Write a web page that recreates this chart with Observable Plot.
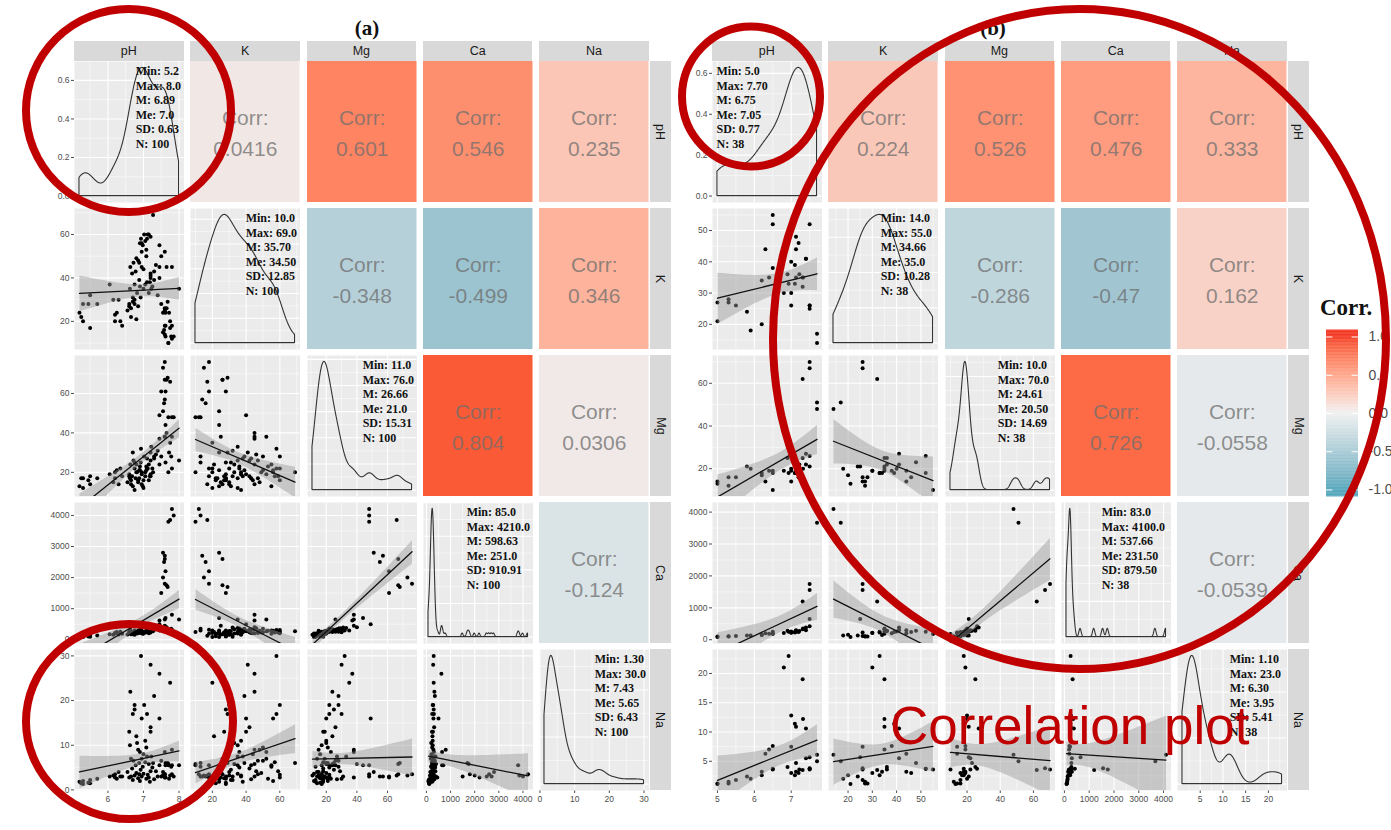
<!DOCTYPE html>
<html>
<head>
<meta charset="utf-8">
<script src="https://cdn.jsdelivr.net/npm/d3@7"></script>
<script src="https://cdn.jsdelivr.net/npm/@observablehq/plot@0.6"></script>
<style>
  html, body { margin: 0; padding: 0; background: #fff; }
  #page { position: relative; width: 1391px; height: 830px; overflow: hidden; background: #fff;
          font-family: "Liberation Sans", Arial, sans-serif; }
  .strip { position: absolute; background: #D9D9D9; color: #1A1A1A; font-size: 12.5px;
           display: flex; align-items: center; justify-content: center; }
  .strip.right span { display: inline-block; transform: rotate(90deg); white-space: nowrap; }
</style>
</head>
<body>
<div id="page"></div>
<script>
const VARS = ["pH", "K", "Mg", "Ca", "Na"];

// ---------- (a) soil samples, N = 100 ----------
const pHA = [
  7.80, 7.85, 7.75, 7.70, 7.55, 7.60, 7.60, 7.58, 7.62, 7.55, 7.60, 7.65, 7.68, 7.50, 7.62, 7.80, 7.60, 7.45,
  5.20, 5.25, 5.30, 5.30, 5.45, 5.50, 5.50, 5.70,
  6.05, 6.15, 6.20, 6.20, 6.25, 6.30, 6.35, 6.40,
  6.93, 7.20, 7.45, 7.30, 6.63, 6.75, 6.75, 7.02, 6.70, 6.95,
  7.10, 7.20, 7.20, 6.60, 6.80, 6.82, 6.62, 7.08, 6.85, 6.90,
  7.00, 7.10, 6.95, 6.65, 6.72, 7.05, 6.88, 7.15, 6.78, 6.98,
  7.25, 6.68, 6.92, 7.35, 6.55, 6.80, 7.00, 7.12, 6.75, 6.95,
  7.40, 6.60, 6.85, 7.08, 7.30, 6.70, 6.90, 7.18, 6.88, 7.27,
  7.45, 7.50, 7.15, 7.20, 7.05, 6.65, 7.22,
  7.75, 7.62, 7.70, 7.80, 7.65, 8.00, 7.72, 7.78, 7.60
];
const kA = [
  12, 13, 17, 10, 24, 14, 26, 16, 18, 15, 18, 26, 29, 28, 24, 45, 52, 40,
  24, 22, 20, 28, 28, 17, 32, 28,
  37, 30, 20, 23, 24, 30, 20, 18,
  58, 41, 45, 39, 45, 30, 28, 60, 29, 56,
  58, 42, 40, 27, 21, 33, 35, 50, 48, 36,
  44, 38, 52, 26, 47, 57, 39, 33, 43, 55,
  36, 42, 31, 46, 25, 49, 35, 60, 37, 45,
  32, 28, 27, 53, 43, 31, 56, 38, 47, 69,
  55, 50, 60, 59, 37, 22, 35,
  20, 13, 10, 18, 45, 35, 24, 13, 25
];
const mgA = [
  48, 48, 66, 48, 51, 57, 67, 55, 61, 73, 76, 67, 68, 61, 44, 38, 38, 49,
  13, 17, 12, 17, 16, 14, 18, 17,
  19, 15, 20, 17, 21, 14, 22, 18,
  32, 30, 37, 28, 24, 22, 25, 28, 30, 20,
  22, 26, 19, 18, 24, 20, 17, 21, 15, 23,
  16, 27, 19, 14, 26, 18, 21, 24, 17, 13,
  22, 18, 25, 29, 15, 20, 12, 22, 11, 14,
  31, 19, 16, 23, 27, 13, 21, 18, 17, 20,
  24, 28, 16, 18, 20, 16, 33,
  35, 25, 20, 22, 40, 26, 30, 28, 38
];
const caA = [
  4210, 4000, 3850, 3800, 2800, 2700, 2600, 2500, 2200, 2000, 1800, 1750, 1700, 1500, 700, 800, 650, 500,
  90, 110, 85, 120, 100, 130, 95, 140,
  180, 160, 220, 200, 250, 170, 260, 190,
  300, 280, 620, 350, 330, 280, 300, 260, 240, 290,
  310, 320, 270, 230, 250, 200, 260, 240, 290, 310,
  210, 330, 270, 180, 260, 230, 300, 340, 220, 190,
  360, 240, 280, 370, 170, 230, 200, 310, 160, 210,
  390, 250, 230, 290, 330, 180, 260, 240, 220, 270,
  300, 350, 210, 230, 260, 190, 380,
  300, 300, 250, 320, 400, 650, 300, 350, 450
];
const naA = [
  3.5, 3.0, 3.2, 5.5, 4.0, 3.0, 3.5, 3.0, 2.8, 3.2, 3.5, 5.8, 6.0, 3.0, 5.5, 9.0, 8.5, 16,
  1.8, 1.5, 2.0, 1.3, 1.6, 1.5, 2.2, 2.5,
  3.0, 3.2, 2.8, 3.5, 2.5, 4.0, 3.0, 3.0,
  30, 28, 26, 21, 22, 19, 18, 19, 17, 16,
  17, 14, 13, 13, 12, 10.5, 10, 9.5, 9, 8.5,
  8, 7.5, 7, 7, 6.5, 6.2, 6, 5.8, 5.5, 5.2,
  5, 4.8, 4.5, 4.2, 4, 3.8, 3.6, 3.4, 3.2, 3,
  3, 2.8, 2.6, 2.5, 2.4, 2.2, 2.0, 1.8, 3.5, 6,
  5.5, 6.5, 2.8, 4.2, 11, 3.0, 7.5,
  24, 6, 5.8, 5.5, 5.8, 5.5, 2.5, 5.2, 2.8
];
// upper triangle, row by row: pH-K, pH-Mg, pH-Ca, pH-Na, K-Mg, K-Ca, K-Na, Mg-Ca, Mg-Na, Ca-Na
const corrA = [0.0416, 0.601, 0.546, 0.235, -0.348, -0.499, 0.346, 0.804, 0.0306, -0.124];
const minA = ["5.2", "10.0", "11.0", "85.0", "1.30"];
const maxA = ["8.0", "69.0", "76.0", "4210.0", "30.0"];
const meanA = ["6.89", "35.70", "26.66", "598.63", "7.43"];
const medianA = ["7.0", "34.50", "21.0", "251.0", "5.65"];
const sdA = ["0.63", "12.85", "15.31", "910.91", "6.43"];
const nA = 100;
const ticksA = [[6, 7, 8], [20, 40, 60], [20, 40, 60], [0, 1000, 2000, 3000, 4000], [0, 10, 20, 30]];
const densityTicksA = [0, 0.2, 0.4, 0.6];

// ---------- (b) soil samples, N = 38 ----------
const pHB = [5.0, 5.0, 5.3, 5.3, 5.5, 5.8, 5.9, 6.2, 6.3, 6.5, 6.5, 6.5, 6.4, 6.8, 6.93, 7.0, 7.0, 7.1, 7.13,
  7.13, 7.13, 7.22, 7.31, 7.31, 7.32, 7.4, 7.4, 7.5, 7.5, 7.5, 7.5, 7.7, 7.7, 6.2, 7.0, 6.9, 7.2, 7.1];
const kB = [27, 21, 28, 27, 26, 24, 18, 34, 44, 55, 52, 38, 35, 30, 33, 26, 40, 39, 48,
  44, 35, 36, 32, 35, 35, 41, 41, 52, 26, 26, 25, 17, 14, 20, 30, 36, 46, 33];
const mgB = [14, 13, 16, 12, 16, 21, 20, 18, 14, 10, 18, 19, 19, 19, 18, 14, 20, 18, 23,
  19, 21, 22, 62, 25, 20, 22, 27, 26, 70, 67, 21, 51, 48, 17, 19, 25, 16, 18];
const caB = [100, 83, 100, 110, 120, 130, 130, 150, 200, 180, 250, 200, 190, 210, 250, 230, 260, 240, 280,
  300, 250, 270, 1200, 330, 350, 300, 380, 420, 1750, 1560, 650, 3670, 4100, 160, 220, 280, 240, 230];
const naB = [1.2, 1.1, 1.2, 1.5, 1.8, 2.4, 2.0, 3.2, 6.3, 3.6, 3.7, 7.6, 7.0, 21, 23, 7.5, 12.8, 11.4, 4.7,
  3.2, 10.9, 3.6, 3.5, 19, 12.2, 5.5, 10.6, 3.7, 3.6, 3.8, 5.7, 5.0, 6.1, 2.6, 3.0, 4.0, 3.0, 2.6];
const corrB = [0.224, 0.526, 0.476, 0.333, -0.286, -0.47, 0.162, 0.726, -0.0558, -0.0539];
const minB = ["5.0", "14.0", "10.0", "83.0", "1.10"];
const maxB = ["7.70", "55.0", "70.0", "4100.0", "23.0"];
const meanB = ["6.75", "34.66", "24.61", "537.66", "6.30"];
const medianB = ["7.05", "35.0", "20.50", "231.50", "3.95"];
const sdB = ["0.77", "10.28", "14.69", "879.50", "5.41"];
const nB = 38;
const ticksB = [[5, 6, 7], [20, 30, 40, 50], [20, 40, 60], [0, 1000, 2000, 3000, 4000], [5, 10, 15, 20]];
const densityTicksB = [0, 0.2, 0.4, 0.6];

const legendTicks = [1, 0.5, 0, -0.5, -1];

// ---------- layout ----------
const CELL_W = 109.5, CELL_H = 141, STEP_X = 116.3, STEP_Y = 147, TOP = 61;
const page = document.getElementById("page");

const corrColor = {type: "linear", domain: [-1, 0, 1], range: ["#3B9AB2", "#EEEEEE", "#F21A00"],
                   interpolate: "lab", clamp: true};

const baseStyle = {background: "transparent", overflow: "visible",
  fontFamily: "'Liberation Sans', Arial, sans-serif", fontSize: "8.5px", color: "#4D4D4D"};

const measure = document.createElement("canvas").getContext("2d");
measure.font = "bold 12px 'Liberation Serif'";

function place(node, left, top) {
  node.style.position = "absolute";
  node.style.left = left + "px";
  node.style.top = top + "px";
  page.appendChild(node);
  return node;
}

function toRows(cols) {
  return cols[0].map((_, i) => Object.fromEntries(VARS.map((v, j) => [v, cols[j][i]])));
}

function padded(rows, v) {
  const [a, b] = d3.extent(rows, d => d[v]);
  const p = (b - a) * 0.05;
  return [a - p, b + p];
}

function minorBreaks(major, dom) {
  if (major.length < 2) return [];
  const s = major[1] - major[0];
  const out = [];
  for (let t = major[0] - s / 2; t <= major[major.length - 1] + s / 2 + 1e-9; t += s)
    if (t >= dom[0] && t <= dom[1]) out.push(t);
  return out;
}

// Gaussian kernel density with R's bw.nrd0 bandwidth, evaluated over the data range
function kde(values) {
  const v = values.slice().sort(d3.ascending);
  const n = v.length;
  const sd = d3.deviation(v);
  const iqr = d3.quantileSorted(v, 0.75) - d3.quantileSorted(v, 0.25);
  let lo = Math.min(sd, iqr / 1.34);
  if (!(lo > 0)) lo = sd || 1;
  const bw = 0.9 * lo * Math.pow(n, -0.2);
  const [a, b] = d3.extent(v);
  const norm = 1 / (n * bw * Math.sqrt(2 * Math.PI));
  return d3.range(512).map(i => {
    const x = a + (b - a) * i / 511;
    let s = 0;
    for (const t of v) { const z = (x - t) / bw; s += Math.exp(-0.5 * z * z); }
    return {x, y: s * norm};
  });
}

function panelBackground(xDom, yDom, xMaj, yMaj) {
  return [
    Plot.frame({fill: "#EBEBEB", stroke: "none"}),
    Plot.ruleX(minorBreaks(xMaj, xDom), {stroke: "#fff", strokeWidth: 0.5}),
    Plot.ruleY(minorBreaks(yMaj, yDom), {stroke: "#fff", strokeWidth: 0.5}),
    Plot.ruleX(xMaj, {stroke: "#fff", strokeWidth: 1.1}),
    Plot.ruleY(yMaj, {stroke: "#fff", strokeWidth: 1.1})
  ];
}

const intFmt = d => String(d);
const decFmt = d3.format(".1f");

function scaleOpts(dom, ticks, fmt, axis) {
  return {domain: dom, ticks, tickFormat: fmt, axis, tickSize: 3, tickPadding: 2, label: null};
}

const panels = [
  {x0: 74, rows: toRows([pHA, kA, mgA, caA, naA]), corr: corrA, n: nA,
   stats: [minA, maxA, meanA, medianA, sdA], ticks: ticksA, densityTicks: densityTicksA,
   statPad: 3, statLeft: [false, false, false, false, false]},
  {x0: 712, rows: toRows([pHB, kB, mgB, caB, naB]), corr: corrB, n: nB,
   stats: [minB, maxB, meanB, medianB, sdB], ticks: ticksB, densityTicks: densityTicksB,
   statPad: 6, statLeft: [true, false, false, false, false]}
];

for (const p of panels) {
  const doms = VARS.map(v => padded(p.rows, v));
  const majors = VARS.map((v, i) => p.ticks[i].filter(t => t >= doms[i][0] && t <= doms[i][1]));
  let k = 0;

  // column strips on top, row strips on the right
  VARS.forEach((v, i) => {
    const top = document.createElement("div");
    top.className = "strip";
    top.textContent = v;
    top.style.width = CELL_W + "px";
    top.style.height = "19.5px";
    place(top, p.x0 + i * STEP_X, TOP - 20);

    const right = document.createElement("div");
    right.className = "strip right";
    right.innerHTML = `<span>${v}</span>`;
    right.style.width = "21px";
    right.style.height = CELL_H + "px";
    place(right, p.x0 + 4 * STEP_X + CELL_W + 1, TOP + i * STEP_Y);
  });

  for (let r = 0; r < 5; r++) {
    for (let c = 0; c < 5; c++) {
      const vr = VARS[r], vc = VARS[c];
      const ml = c === 0 ? 40 : 0, mb = r === 4 ? 24 : 0;
      const base = {width: CELL_W + ml, height: CELL_H + mb, marginLeft: ml, marginBottom: mb,
                    marginTop: 0, marginRight: 0, style: baseStyle};
      let svg;
      if (r < c) {
        // correlation tile
        const value = p.corr[k++];
        svg = Plot.plot({
          ...base,
          color: corrColor,
          marks: [
            Plot.rect([value], {fill: d => d}),
            Plot.text(["Corr:"], {text: d => d, frameAnchor: "middle", dy: -14, fontSize: 21,
                                  fill: "#6E6E6E", fillOpacity: 0.75}),
            Plot.text([value], {text: d => String(d), frameAnchor: "middle", dy: 17, fontSize: 21,
                                fill: "#6E6E6E", fillOpacity: 0.75})
          ]
        });
      } else if (r === c) {
        // density of the variable with its summary statistics
        const dens = kde(p.rows.map(d => d[vr]));
        const top = d3.max(dens, d => d.y);
        const yDom = [-0.05 * top, 1.05 * top];
        const yMaj = r === 0 ? p.densityTicks.filter(t => t <= yDom[1]) : d3.ticks(0, yDom[1], 4);
        const lines = [`Min: ${p.stats[0][r]}`, `Max: ${p.stats[1][r]}`, `M: ${p.stats[2][r]}`,
                       `Me: ${p.stats[3][r]}`, `SD: ${p.stats[4][r]}`, `N: ${p.n}`];
        const wMax = d3.max(lines, s => measure.measureText(s).width);
        const left = p.statLeft[r];
        svg = Plot.plot({
          ...base,
          x: scaleOpts(doms[r], majors[r], intFmt, r === 4 ? "bottom" : null),
          y: scaleOpts(yDom, yMaj, decFmt, c === 0 ? "left" : null),
          marks: [
            ...panelBackground(doms[r], yDom, majors[r], yMaj),
            Plot.areaY(dens, {x: "x", y: "y", fill: "none", stroke: "#333", strokeWidth: 1.1, clip: true}),
            Plot.text([lines.join("\n")], {
              text: d => d, frameAnchor: left ? "top-left" : "top-right", textAnchor: "start",
              lineAnchor: "top", dx: left ? 4 : -(wMax + p.statPad), dy: 3,
              fontFamily: "'Liberation Serif', 'Times New Roman', serif", fontWeight: "bold",
              fontSize: 12, lineHeight: 1.22, fill: "#111"
            })
          ]
        });
      } else {
        // scatter with linear fit and 95% confidence band
        svg = Plot.plot({
          ...base,
          x: scaleOpts(doms[c], majors[c], intFmt, r === 4 ? "bottom" : null),
          y: scaleOpts(doms[r], majors[r], intFmt, c === 0 ? "left" : null),
          marks: [
            ...panelBackground(doms[c], doms[r], majors[c], majors[r]),
            Plot.dot(p.rows, {x: vc, y: vr, r: 2, fill: "#000", stroke: "none", clip: true}),
            Plot.linearRegressionY(p.rows, {x: vc, y: vr, stroke: "#111", strokeWidth: 1.3,
                                            fill: "#999", fillOpacity: 0.45, clip: true})
          ]
        });
      }
      place(svg, p.x0 + c * STEP_X - ml, TOP + r * STEP_Y);
    }
  }
}

// ---------- colour bar legend ----------
const ramp = d3.range(-1.09, 1.09, 0.01);
const legend = Plot.plot({
  width: 71, height: 200, margin: 0,
  style: {...baseStyle, fontSize: "14px"},
  x: {domain: [0, 1], range: [6, 38], axis: null},
  y: {domain: [-1.085, 1.085], range: [186, 20], axis: null},
  color: corrColor,
  marks: [
    Plot.rect(ramp, {x1: 0, x2: 1, y1: d => d, y2: d => d + 0.0105, fill: d => d}),
    Plot.ruleY(legendTicks, {x1: 0, x2: 0.2, stroke: "#fff", strokeWidth: 1}),
    Plot.ruleY(legendTicks, {x1: 0.8, x2: 1, stroke: "#fff", strokeWidth: 1}),
    Plot.text(legendTicks, {x: 1, y: d => d, text: d => d.toFixed(1), dx: 10, textAnchor: "start",
                            fill: "#4D4D4D", fontSize: 14})
  ]
});
place(legend, 1320, 310);

// ---------- titles and highlights ----------
const overlay = d3.create("svg")
  .attr("width", 1391).attr("height", 830)
  .style("position", "absolute").style("left", "0px").style("top", "0px")
  .style("pointer-events", "none");

const titles = [
  {text: "(a)", x: 367, y: 35, size: 21, anchor: "middle"},
  {text: "(b)", x: 993, y: 35, size: 21, anchor: "middle"},
  {text: "Corr.", x: 1320, y: 315, size: 23, anchor: "start"}
];
overlay.selectAll("text.title").data(titles).join("text")
  .attr("class", "title")
  .attr("x", d => d.x).attr("y", d => d.y)
  .attr("text-anchor", d => d.anchor)
  .attr("font-family", "'Liberation Serif', 'Times New Roman', serif")
  .attr("font-weight", "bold").attr("font-size", d => d.size)
  .attr("fill", "#111")
  .text(d => d.text);

const rings = [
  {cx: 128.5, cy: 110.5, rx: 102.5, ry: 101.5},
  {cx: 129.5, cy: 721.5, rx: 103.5, ry: 97.5},
  {cx: 751, cy: 96.5, rx: 69, ry: 70},
  {cx: 1079.5, cy: 339, rx: 306.5, ry: 330}
];
overlay.selectAll("ellipse").data(rings).join("ellipse")
  .attr("cx", d => d.cx).attr("cy", d => d.cy)
  .attr("rx", d => d.rx).attr("ry", d => d.ry)
  .attr("fill", "none").attr("stroke", "#C00000").attr("stroke-width", 8);

overlay.append("text")
  .attr("x", 890).attr("y", 744)
  .attr("font-family", "'Liberation Sans', Arial, sans-serif")
  .attr("font-size", 53).attr("fill", "#C00000")
  .text("Correlation plot");

page.appendChild(overlay.node());
</script>
</body>
</html>
